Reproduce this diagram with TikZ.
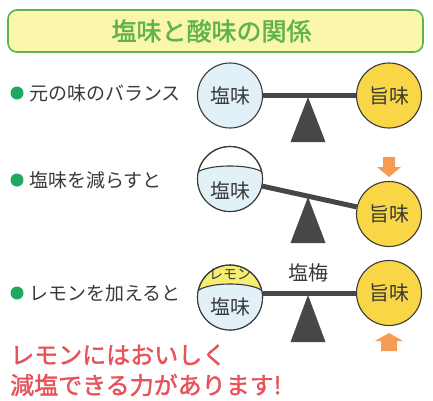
\documentclass[tikz,border=0pt]{standalone}
\usepackage{fontspec}
\setmainfont{Noto Sans CJK JP}
\newfontfamily\heavyfont[FakeBold=1.6]{Noto Sans CJK JP}
\definecolor{titlefill}{HTML}{FAF6AA}
\definecolor{titlegreen}{HTML}{5DB44F}
\definecolor{bulletgreen}{HTML}{1FA862}
\definecolor{txtgray}{HTML}{3A3A3A}
\definecolor{saltblue}{HTML}{E2F1F8}
\definecolor{umamiyellow}{HTML}{F8D646}
\definecolor{lemonyellow}{HTML}{F6EE72}
\definecolor{beamgray}{HTML}{474747}
\definecolor{arroworange}{HTML}{F69A55}
\definecolor{msgred}{HTML}{E8525A}
\tikzset{
  ball/.style={circle, draw=txtgray, line width=1.1pt, minimum size=65pt, inner sep=0pt},
  saltball/.style={ball, fill=saltblue},
  umamiball/.style={ball, fill=umamiyellow},
  ballfont/.style={font=\fontsize{20}{22}\selectfont, text=txtgray, inner sep=0pt},
  lemonfont/.style={font=\fontsize{14}{16}\selectfont, text=txtgray, inner sep=0pt},
  beam/.style={line width=5pt, draw=beamgray},
  fulcrum/.style={fill=beamgray},
  label/.style={font=\fontsize{19}{22}\selectfont, text=txtgray, anchor=west, inner sep=0pt},
  bullet/.style={circle, fill=bulletgreen, minimum size=13pt, inner sep=0pt},
  bigarrow/.style={fill=arroworange},
  msg/.style={font=\fontsize{24}{28}\heavyfont, text=msgred, anchor=west, inner sep=0pt},
  divline/.style={draw=txtgray, line width=1.1pt},
}
\begin{document}
\begin{tikzpicture}[x=1pt,y=-1pt]
\useasboundingbox (0,0) rectangle (433,400);

% title
\node[draw=titlegreen, line width=1.6pt, fill=titlefill, rounded corners=9pt,
      minimum width=415pt, minimum height=42pt, inner sep=0pt] (titlebox) at (215.5,31) {};
\node[font=\fontsize{25}{28}\heavyfont, text=titlegreen, inner sep=0pt] (title) at (211.5,31) {塩味と酸味の関係};

% ---------- row 1
\node[bullet] (b1) at (17,93) {};
\node[label] (l1) at (29,93) {元の味のバランス};
\fill[fulcrum] (308,97) -- (325.5,142) -- (290.5,142) -- cycle;
\node[saltball] (L1) at (230,95.5) {};
\node[umamiball] (R1) at (389,95.5) {};
\draw[beam] (L1) -- (R1);
\node[ballfont] (t1a) at (L1) {塩味};
\node[ballfont] (t1b) at (R1) {旨味};

% ---------- row 2
\node[bullet] (b2) at (17,180) {};
\node[label] (l2) at (29,180) {塩味を減らすと};
\fill[fulcrum] (308,197) -- (325.5,243) -- (290.5,243) -- cycle;
\node[ball, fill=white] (L2) at (230,179) {};
\begin{scope}
  \clip (230,179) circle (32.5);
  \fill[saltblue] (196,175) arc[start angle=180, end angle=360, x radius=34, y radius=9] -- (264,215) -- (196,215) -- cycle;
  \draw[divline] (196,175) arc[start angle=180, end angle=360, x radius=34, y radius=9];
\end{scope}
\draw[divline] (230,179) circle (32.5);
\node[umamiball] (R2) at (389,214) {};
\draw[beam] (L2) -- (R2);
\node[ballfont] (t2a) at (230,191) {塩味};
\node[ballfont] (t2b) at (R2) {旨味};
\fill[bigarrow] (383,157) -- (395,157) -- (395,167) -- (401,167) -- (389,177) -- (377,167) -- (383,167) -- cycle;

% ---------- row 3
\node[bullet] (b3) at (17,293) {};
\node[label] (l3) at (29,293) {レモンを加えると};
\fill[fulcrum] (308,295) -- (325.5,342) -- (290.5,342) -- cycle;
\node[ball, fill=lemonyellow] (L3) at (230,297.5) {};
\begin{scope}
  \clip (230,297.5) circle (32.5);
  \fill[saltblue] (196,294) arc[start angle=180, end angle=360, x radius=34, y radius=10] -- (264,335) -- (196,335) -- cycle;
  \draw[divline] (196,294) arc[start angle=180, end angle=360, x radius=34, y radius=10];
\end{scope}
\draw[divline] (230,297.5) circle (32.5);
\node[umamiball] (R3) at (389,293) {};
\draw[beam] (R3.west) -- (R3.west -| L3.east);
\node[lemonfont] (t3c) at (230,274) {レモン};
\node[ballfont] (t3a) at (230,307) {塩味};
\node[ballfont] (t3b) at (R3) {旨味};
\node[ballfont] (anbai) at (308,273) {塩梅};
\fill[bigarrow] (389,333) -- (403,341) -- (397,341) -- (397,351) -- (381,351) -- (381,341) -- (375,341) -- cycle;

% ---------- message
\node[msg] (m1) at (10,355) {レモンにはおいしく};
\node[msg] (m2) at (10,385) {減塩できる力があります!};
\end{tikzpicture}
\end{document}
